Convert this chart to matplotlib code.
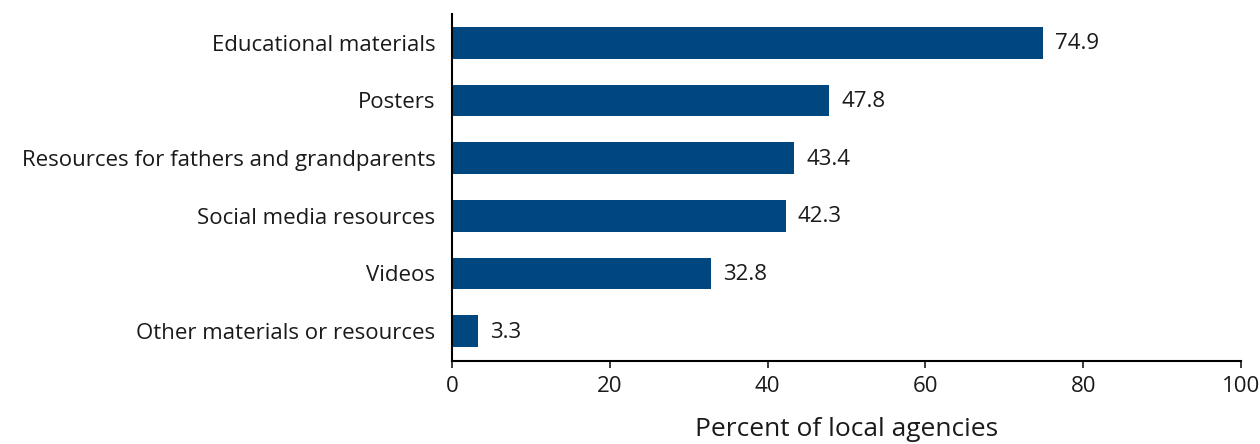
import matplotlib.pyplot as plt
import numpy as np

plt.rcParams['font.family'] = ['Open Sans', 'DejaVu Sans']

categories = ['Educational materials', 'Posters', 'Resources for fathers and grandparents',
              'Social media resources', 'Videos', 'Other materials or resources']
values = [74.9, 47.8, 43.4, 42.3, 32.8, 3.3]

fig = plt.figure(figsize=(12.6, 4.44), dpi=100)
ax = fig.add_axes([0.3587, 0.187, 0.6263, 0.7815])

y = np.arange(len(categories))
ax.barh(y, values, height=0.55, color='#00467f')
for yi, v in zip(y, values):
    ax.text(v + 1.5, yi + 0.02, f'{v:.1f}', va='center', ha='left', fontsize=16, color='#1a1a1a')

ax.set_yticks(y)
ax.set_yticklabels(categories, fontsize=16, color='#1a1a1a')
ax.set_ylim(5.52, -0.5)
ax.set_xlim(0, 100)
ax.set_xticks(range(0, 101, 20))
ax.tick_params(axis='x', labelsize=16, length=5, width=1.2, colors='#1a1a1a', pad=6)
ax.tick_params(axis='y', length=0, pad=12)
ax.spines['top'].set_visible(False)
ax.spines['right'].set_visible(False)
ax.spines['left'].set_linewidth(1.5)
ax.spines['bottom'].set_linewidth(1.5)
ax.set_xlabel('Percent of local agencies', fontsize=19, labelpad=14, color='#1a1a1a')

fig.savefig('out.png', dpi=100)
